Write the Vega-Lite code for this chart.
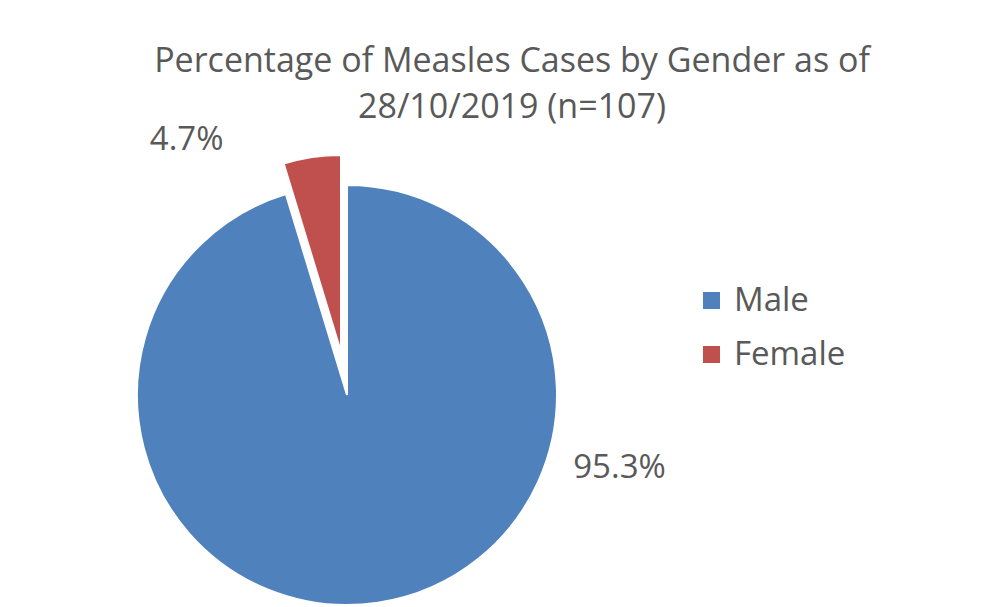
{
  "$schema": "https://vega.github.io/schema/vega-lite/v6.json",
  "width": 694,
  "height": 420,
  "autosize": {"type": "none"},
  "padding": {"left": 0, "top": 185, "right": 310, "bottom": 2},
  "background": "white",
  "title": {
    "text": ["Percentage of Measles Cases by Gender as of", "28/10/2019 (n=107)"],
    "anchor": "middle",
    "dx": 165,
    "offset": -1,
    "font": "Open Sans",
    "fontSize": 34,
    "fontWeight": "normal",
    "color": "#595959",
    "lineHeight": 46
  },
  "data": {
    "values": [
      {"gender": "Male", "pct": 95.3, "label": "95.3%", "order": 1},
      {"gender": "Female", "pct": 4.7, "label": "4.7%", "order": 2}
    ]
  },
  "transform": [
    {"stack": "pct", "groupby": [], "sort": [{"field": "order"}], "as": ["t0", "t1"]}
  ],
  "layer": [
    {
      "transform": [{"filter": "datum.gender === 'Male'"}],
      "mark": {"type": "arc", "radius": 210, "stroke": "white", "strokeWidth": 2},
      "encoding": {
        "theta": {"field": "t0", "type": "quantitative", "scale": {"domain": [0, 100]}},
        "theta2": {"field": "t1"},
        "color": {
          "field": "gender",
          "type": "nominal",
          "scale": {"domain": ["Male", "Female"], "range": ["#4F81BD", "#C0504D"]},
          "legend": {
            "title": null,
            "orient": "none",
            "legendX": 695,
            "legendY": 99,
            "symbolType": "square",
            "symbolSize": 289,
            "symbolStrokeWidth": 0,
            "labelFont": "Open Sans",
            "labelFontSize": 33,
            "labelColor": "#595959",
            "labelOffset": 6,
            "rowPadding": 20
          }
        }
      }
    },
    {
      "transform": [{"filter": "datum.gender === 'Female'"}],
      "mark": {"type": "arc", "radius": 197, "xOffset": -6, "yOffset": -43, "stroke": "white", "strokeWidth": 2},
      "encoding": {
        "theta": {"field": "t0", "type": "quantitative", "scale": {"domain": [0, 100]}},
        "theta2": {"field": "t1"},
        "color": {"field": "gender", "type": "nominal"}
      }
    },
    {
      "transform": [{"filter": "datum.gender === 'Female'"}],
      "mark": {"type": "text", "theta": -0.562, "radius": 301, "font": "Open Sans", "fontSize": 33, "color": "#595959", "align": "center", "baseline": "middle"},
      "encoding": {"text": {"field": "label"}}
    },
    {
      "transform": [{"filter": "datum.gender === 'Male'"}],
      "mark": {"type": "text", "theta": 1.831, "radius": 282, "font": "Open Sans", "fontSize": 33, "color": "#595959", "align": "center", "baseline": "middle"},
      "encoding": {"text": {"field": "label"}}
    }
  ],
  "config": {"view": {"stroke": null}}
}
